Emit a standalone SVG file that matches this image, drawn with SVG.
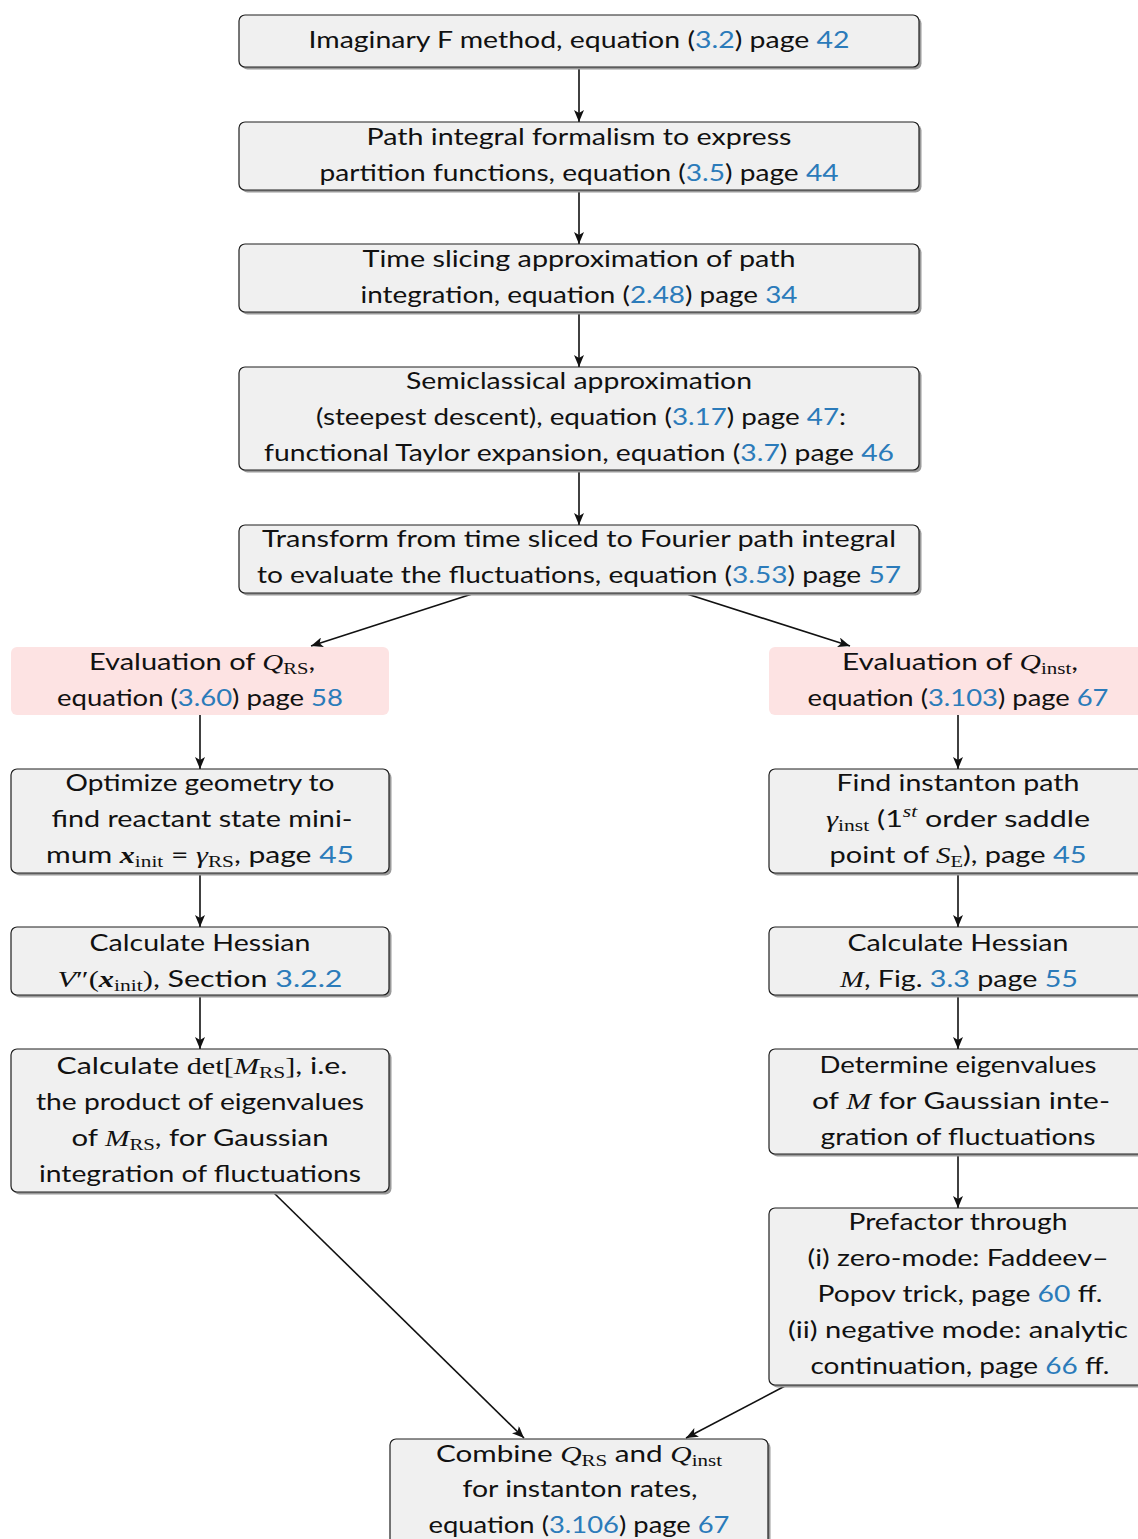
<svg xmlns="http://www.w3.org/2000/svg" width="1138" height="1539" viewBox="0 0 1138 1539">
<style>
.box{fill:#f0f0f0;stroke:#1e1e1e;stroke-width:1.2}
.sh{fill:#9a9a9a}
.pink{fill:#fde3e3}
text{font-family:Lato,"Noto Sans",sans-serif;font-size:24px;fill:#111;text-anchor:middle}
.l{fill:#2b7bba}
.m{font-family:"Liberation Serif",serif;font-style:italic}
.mb{font-family:"Liberation Serif",serif;font-style:italic;font-weight:bold}
.r{font-family:"Liberation Serif",serif}
.s{font-family:"Liberation Serif",serif;font-size:17px}
.sup{font-family:"Liberation Serif",serif;font-style:italic;font-size:17px}
.c{stroke:#111;stroke-width:1.6;fill:none;marker-end:url(#ah)}
</style>
<defs>
<marker id="ah" viewBox="0 0 12 10" refX="12" refY="5" markerWidth="12" markerHeight="10" markerUnits="userSpaceOnUse" orient="auto">
<path d="M0,0 L12,5 L0,10 L3,5 Z" fill="#111"/>
</marker>
</defs>

<g id="connectors">
<line class="c" x1="579" y1="67" x2="579" y2="122"/>
<line class="c" x1="579" y1="190" x2="579" y2="244"/>
<line class="c" x1="579" y1="312" x2="579" y2="367"/>
<line class="c" x1="579" y1="470" x2="579" y2="525"/>
<line class="c" x1="472" y1="594" x2="311" y2="646"/>
<line class="c" x1="687" y1="594" x2="850" y2="646"/>
<line class="c" x1="200" y1="714" x2="200" y2="769"/>
<line class="c" x1="200" y1="873" x2="200" y2="927"/>
<line class="c" x1="200" y1="995" x2="200" y2="1049"/>
<line class="c" x1="958" y1="714" x2="958" y2="769"/>
<line class="c" x1="958" y1="873" x2="958" y2="927"/>
<line class="c" x1="958" y1="995" x2="958" y2="1049"/>
<line class="c" x1="958" y1="1154" x2="958" y2="1208"/>
<line class="c" x1="274" y1="1193" x2="524" y2="1438"/>
<line class="c" x1="785" y1="1386" x2="686" y2="1438"/>
</g>

<g id="n1">
<rect class="sh" x="241.5" y="17.5" width="680" height="52" rx="6"/>
<rect class="box" x="239" y="15" width="680" height="52" rx="6"/>
<text x="579" y="48" textLength="541" lengthAdjust="spacingAndGlyphs">Imaginary F method, equation (<tspan class="l">3.2</tspan>) page <tspan class="l">42</tspan></text>
</g>

<g id="n2">
<rect class="sh" x="241.5" y="124.5" width="680" height="68" rx="6"/>
<rect class="box" x="239" y="122" width="680" height="68" rx="6"/>
<text x="579" y="145" textLength="425" lengthAdjust="spacingAndGlyphs">Path integral formalism to express</text>
<text x="579" y="181" textLength="519" lengthAdjust="spacingAndGlyphs">partition functions, equation (<tspan class="l">3.5</tspan>) page <tspan class="l">44</tspan></text>
</g>

<g id="n3">
<rect class="sh" x="241.5" y="246.5" width="680" height="68" rx="6"/>
<rect class="box" x="239" y="244" width="680" height="68" rx="6"/>
<text x="579" y="267" textLength="433" lengthAdjust="spacingAndGlyphs">Time slicing approximation of path</text>
<text x="579" y="303" textLength="437" lengthAdjust="spacingAndGlyphs">integration, equation (<tspan class="l">2.48</tspan>) page <tspan class="l">34</tspan></text>
</g>

<g id="n4">
<rect class="sh" x="241.5" y="369.5" width="680" height="103" rx="6"/>
<rect class="box" x="239" y="367" width="680" height="103" rx="6"/>
<text x="579" y="389" textLength="346" lengthAdjust="spacingAndGlyphs">Semiclassical approximation</text>
<text x="581" y="425" textLength="530" lengthAdjust="spacingAndGlyphs">(steepest descent), equation (<tspan class="l">3.17</tspan>) page <tspan class="l">47</tspan>:</text>
<text x="579" y="461" textLength="630" lengthAdjust="spacingAndGlyphs">functional Taylor expansion, equation (<tspan class="l">3.7</tspan>) page <tspan class="l">46</tspan></text>
</g>

<g id="n5">
<rect class="sh" x="241.5" y="527.5" width="680" height="68" rx="6"/>
<rect class="box" x="239" y="525" width="680" height="68" rx="6"/>
<text x="579" y="547" textLength="634" lengthAdjust="spacingAndGlyphs">Transform from time sliced to Fourier path integral</text>
<text x="579" y="583" textLength="644" lengthAdjust="spacingAndGlyphs">to evaluate the fluctuations, equation (<tspan class="l">3.53</tspan>) page <tspan class="l">57</tspan></text>
</g>

<g id="n6">
<rect class="pink" x="11" y="647" width="378" height="68" rx="6"/>
<text x="202" y="670" textLength="226" lengthAdjust="spacingAndGlyphs">Evaluation of <tspan class="m">Q</tspan><tspan class="s" dy="4">RS</tspan><tspan dy="-4">,</tspan></text>
<text x="200" y="706" textLength="286" lengthAdjust="spacingAndGlyphs">equation (<tspan class="l">3.60</tspan>) page <tspan class="l">58</tspan></text>
</g>

<g id="n7">
<rect class="pink" x="769" y="647" width="378" height="68" rx="6"/>
<text x="960" y="670" textLength="236" lengthAdjust="spacingAndGlyphs">Evaluation of <tspan class="m">Q</tspan><tspan class="s" dy="4">inst</tspan><tspan dy="-4">,</tspan></text>
<text x="958" y="706" textLength="301" lengthAdjust="spacingAndGlyphs">equation (<tspan class="l">3.103</tspan>) page <tspan class="l">67</tspan></text>
</g>

<g id="n8">
<rect class="sh" x="13.5" y="771.5" width="378" height="104" rx="6"/>
<rect class="box" x="11" y="769" width="378" height="104" rx="6"/>
<text x="200" y="791" textLength="269" lengthAdjust="spacingAndGlyphs">Optimize geometry to</text>
<text x="202" y="827" textLength="301" lengthAdjust="spacingAndGlyphs">find reactant state mini-</text>
<text x="200" y="863" textLength="308" lengthAdjust="spacingAndGlyphs">mum <tspan class="mb">x</tspan><tspan class="s" dy="4">init</tspan><tspan dy="-4"> = </tspan><tspan class="m">γ</tspan><tspan class="s" dy="4">RS</tspan><tspan dy="-4">, page </tspan><tspan class="l">45</tspan></text>
</g>

<g id="n9">
<rect class="sh" x="13.5" y="929.5" width="378" height="68" rx="6"/>
<rect class="box" x="11" y="927" width="378" height="68" rx="6"/>
<text x="200" y="951" textLength="221" lengthAdjust="spacingAndGlyphs">Calculate Hessian</text>
<text x="200" y="987" textLength="285" lengthAdjust="spacingAndGlyphs"><tspan class="m">V</tspan><tspan class="r">″(</tspan><tspan class="mb">x</tspan><tspan class="s" dy="4">init</tspan><tspan class="r" dy="-4">)</tspan>, Section <tspan class="l">3.2.2</tspan></text>
</g>

<g id="n10">
<rect class="sh" x="13.5" y="1051.5" width="378" height="143" rx="6"/>
<rect class="box" x="11" y="1049" width="378" height="143" rx="6"/>
<text x="202" y="1074" textLength="291" lengthAdjust="spacingAndGlyphs">Calculate <tspan class="r">det[</tspan><tspan class="m">M</tspan><tspan class="s" dy="4">RS</tspan><tspan class="r" dy="-4">]</tspan>, i.e.</text>
<text x="200" y="1110" textLength="328" lengthAdjust="spacingAndGlyphs">the product of eigenvalues</text>
<text x="200" y="1146" textLength="257" lengthAdjust="spacingAndGlyphs">of <tspan class="m">M</tspan><tspan class="s" dy="4">RS</tspan><tspan dy="-4">, for Gaussian</tspan></text>
<text x="200" y="1182" textLength="322" lengthAdjust="spacingAndGlyphs">integration of fluctuations</text>
</g>

<g id="n11">
<rect class="sh" x="771.5" y="771.5" width="378" height="104" rx="6"/>
<rect class="box" x="769" y="769" width="378" height="104" rx="6"/>
<text x="958" y="791" textLength="243" lengthAdjust="spacingAndGlyphs">Find instanton path</text>
<text x="958" y="827" textLength="264" lengthAdjust="spacingAndGlyphs"><tspan class="m">γ</tspan><tspan class="s" dy="4">inst</tspan><tspan dy="-4"> (1</tspan><tspan class="sup" dy="-10">st</tspan><tspan dy="10"> order saddle</tspan></text>
<text x="958" y="863" textLength="257" lengthAdjust="spacingAndGlyphs">point of <tspan class="m">S</tspan><tspan class="s" dy="4">E</tspan><tspan dy="-4">), page </tspan><tspan class="l">45</tspan></text>
</g>

<g id="n12">
<rect class="sh" x="771.5" y="929.5" width="378" height="68" rx="6"/>
<rect class="box" x="769" y="927" width="378" height="68" rx="6"/>
<text x="958" y="951" textLength="221" lengthAdjust="spacingAndGlyphs">Calculate Hessian</text>
<text x="959" y="987" textLength="238" lengthAdjust="spacingAndGlyphs"><tspan class="m">M</tspan>, Fig. <tspan class="l">3.3</tspan> page <tspan class="l">55</tspan></text>
</g>

<g id="n13">
<rect class="sh" x="771.5" y="1051.5" width="378" height="105" rx="6"/>
<rect class="box" x="769" y="1049" width="378" height="105" rx="6"/>
<text x="958" y="1073" textLength="277" lengthAdjust="spacingAndGlyphs">Determine eigenvalues</text>
<text x="961" y="1109" textLength="298" lengthAdjust="spacingAndGlyphs">of <tspan class="m">M</tspan> for Gaussian inte-</text>
<text x="958" y="1145" textLength="275" lengthAdjust="spacingAndGlyphs">gration of fluctuations</text>
</g>

<g id="n14">
<rect class="sh" x="771.5" y="1210.5" width="378" height="177" rx="6"/>
<rect class="box" x="769" y="1208" width="378" height="177" rx="6"/>
<text x="958" y="1230" textLength="219" lengthAdjust="spacingAndGlyphs">Prefactor through</text>
<text x="958" y="1266" textLength="301" lengthAdjust="spacingAndGlyphs">(i) zero-mode: Faddeev–</text>
<text x="960" y="1302" textLength="285" lengthAdjust="spacingAndGlyphs">Popov trick, page <tspan class="l">60</tspan> ff.</text>
<text x="958" y="1338" textLength="340" lengthAdjust="spacingAndGlyphs">(ii) negative mode: analytic</text>
<text x="960" y="1374" textLength="299" lengthAdjust="spacingAndGlyphs">continuation, page <tspan class="l">66</tspan> ff.</text>
</g>

<g id="n15">
<rect class="sh" x="392.5" y="1441.5" width="378" height="120" rx="6"/>
<rect class="box" x="390" y="1439" width="378" height="120" rx="6"/>
<text x="579" y="1462" textLength="286" lengthAdjust="spacingAndGlyphs">Combine <tspan class="m">Q</tspan><tspan class="s" dy="4">RS</tspan><tspan dy="-4"> and </tspan><tspan class="m">Q</tspan><tspan class="s" dy="4">inst</tspan></text>
<text x="580" y="1497" textLength="235" lengthAdjust="spacingAndGlyphs">for instanton rates,</text>
<text x="579" y="1533" textLength="301" lengthAdjust="spacingAndGlyphs">equation (<tspan class="l">3.106</tspan>) page <tspan class="l">67</tspan></text>
</g>
</svg>
